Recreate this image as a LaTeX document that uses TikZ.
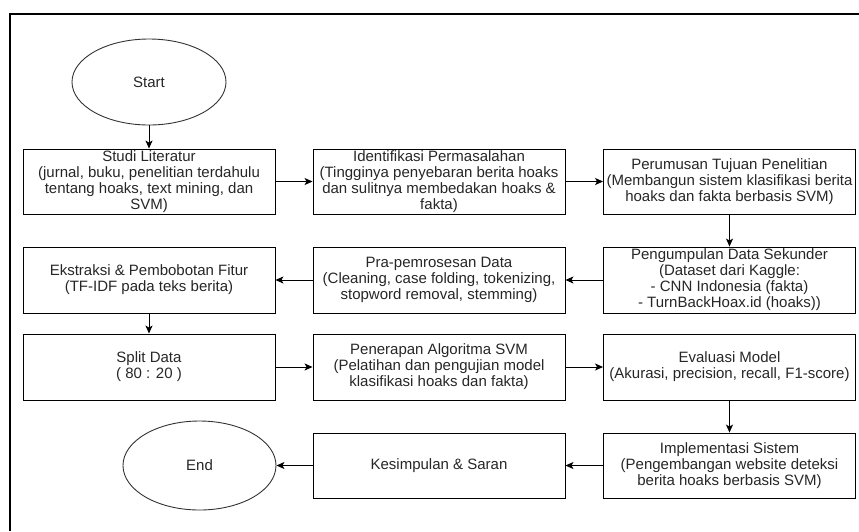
\documentclass[tikz,border=0pt]{standalone}
\usepackage{fontspec}
\setmainfont{Liberation Sans}
\usetikzlibrary{shapes.geometric,arrows.meta}
\begin{document}
\begin{tikzpicture}[x=1pt,y=-1pt,
  stepbox/.style={draw=black,line width=0.9pt,minimum width=252pt,minimum height=65pt,inner xsep=0pt,inner ysep=-3pt,align=center,font=\fontsize{15}{16}\selectfont,text=black!85},
  ovalbox/.style={draw=black!80,line width=0.9pt,ellipse,inner sep=0pt,font=\fontsize{15}{16}\selectfont,text=black!85},
  flow/.style={line width=0.9pt,-{Stealth[length=8pt,width=7pt,inset=2pt]}}]
\useasboundingbox (0,0) rectangle (859,531);
\draw[line width=2pt] (10,531) -- (10,14) -- (859,14);

\node[ovalbox,minimum width=154pt,minimum height=86pt] (start) at (149,82) {Start};

\node[stepbox] (studi) at (149,181.5) {Studi Literatur\\(jurnal, buku, penelitian terdahulu\\tentang hoaks, text mining, dan\\SVM)};
\node[stepbox] (ident) at (439,181.5) {Identifikasi Permasalahan\\(Tingginya penyebaran berita hoaks\\dan sulitnya membedakan hoaks \&\\fakta)};
\node[stepbox] (tujuan) at (729.5,181.5) {Perumusan Tujuan Penelitian\\(Membangun sistem klasifikasi berita\\hoaks dan fakta berbasis SVM)};

\node[stepbox,minimum height=66pt] (kumpul) at (729.5,280) {Pengumpulan Data Sekunder\\(Dataset dari Kaggle:\\- CNN Indonesia (fakta)\\- TurnBackHoax.id (hoaks))};
\node[stepbox,minimum height=66pt] (pra) at (439,280) {Pra-pemrosesan Data\\(Cleaning, case folding, tokenizing,\\stopword removal, stemming)};
\node[stepbox,minimum height=66pt] (ekstrak) at (149,280) {Ekstraksi \& Pembobotan Fitur\\(TF-IDF pada teks berita)};

\node[stepbox,minimum height=66pt] (split) at (149,367) {Split Data\\( 80 : 20 )};
\node[stepbox,minimum height=66pt] (svm) at (439,367) {Penerapan Algoritma SVM\\(Pelatihan dan pengujian model\\klasifikasi hoaks dan fakta)};
\node[stepbox,minimum height=66pt] (eval) at (729.5,367) {Evaluasi Model\\(Akurasi, precision, recall, F1-score)};

\node[stepbox] (impl) at (729.5,465.5) {Implementasi Sistem\\(Pengembangan website deteksi\\berita hoaks berbasis SVM)};
\node[stepbox] (simpul) at (439,465.5) {Kesimpulan \& Saran};
\node[ovalbox,minimum width=153pt,minimum height=89pt] (end) at (199.5,465.5) {End};

\draw[flow] (start) -- (studi);
\draw[flow] (studi) -- (ident);
\draw[flow] (ident) -- (tujuan);
\draw[flow] (tujuan) -- (kumpul);
\draw[flow] (kumpul) -- (pra);
\draw[flow] (pra) -- (ekstrak);
\draw[flow] (ekstrak) -- (split);
\draw[flow] (split) -- (svm);
\draw[flow] (svm) -- (eval);
\draw[flow] (eval) -- (impl);
\draw[flow] (impl) -- (simpul);
\draw[flow] (simpul) -- (end);
\end{tikzpicture}
\end{document}
